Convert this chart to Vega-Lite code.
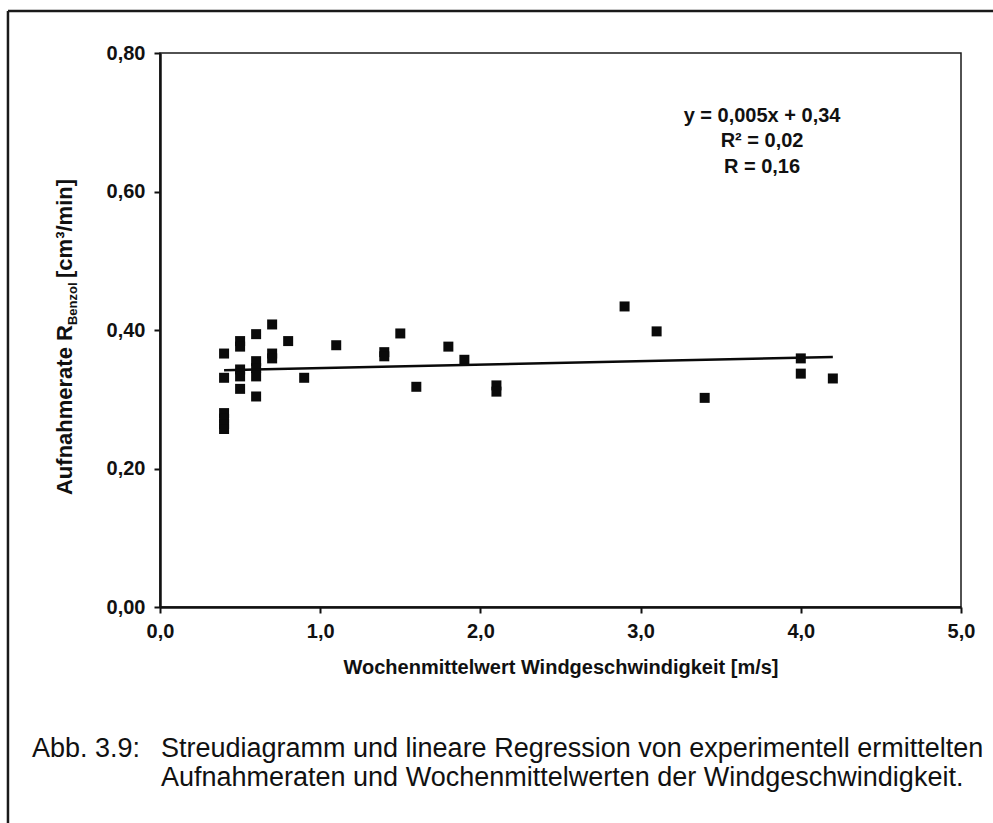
{
  "$schema": "https://vega.github.io/schema/vega-lite/v6.json",
  "width": 801,
  "height": 554,
  "autosize": "none",
  "padding": {"left": 160, "top": 53, "right": 32, "bottom": 216},
  "background": "white",
  "config": {
    "font": "Liberation Sans",
    "view": {"stroke": "#1a1a1a", "strokeWidth": 1.5},
    "axis": {
      "domainColor": "#111111",
      "domainWidth": 2.5,
      "tickColor": "#111111",
      "tickWidth": 2,
      "tickSize": 6,
      "grid": false,
      "labelFont": "Liberation Sans",
      "labelFontWeight": "bold",
      "labelFontSize": 20,
      "labelColor": "#111111",
      "labelFlush": false,
      "labelOverlap": false,
      "labelBound": false,
      "titleFont": "Liberation Sans",
      "titleFontWeight": "bold",
      "titleFontSize": 20,
      "titleColor": "#111111"
    }
  },
  "datasets": {
    "messwerte": [
      {"wind": 0.4, "rate": 0.366}, {"wind": 0.4, "rate": 0.331}, {"wind": 0.4, "rate": 0.280},
      {"wind": 0.4, "rate": 0.272}, {"wind": 0.4, "rate": 0.264}, {"wind": 0.4, "rate": 0.257},
      {"wind": 0.5, "rate": 0.384}, {"wind": 0.5, "rate": 0.376}, {"wind": 0.5, "rate": 0.343},
      {"wind": 0.5, "rate": 0.333}, {"wind": 0.5, "rate": 0.315},
      {"wind": 0.6, "rate": 0.394}, {"wind": 0.6, "rate": 0.355}, {"wind": 0.6, "rate": 0.345},
      {"wind": 0.6, "rate": 0.333}, {"wind": 0.6, "rate": 0.304},
      {"wind": 0.7, "rate": 0.408}, {"wind": 0.7, "rate": 0.366}, {"wind": 0.7, "rate": 0.359},
      {"wind": 0.8, "rate": 0.384},
      {"wind": 0.9, "rate": 0.331},
      {"wind": 1.1, "rate": 0.378},
      {"wind": 1.4, "rate": 0.368}, {"wind": 1.4, "rate": 0.362},
      {"wind": 1.5, "rate": 0.395},
      {"wind": 1.6, "rate": 0.318},
      {"wind": 1.8, "rate": 0.376},
      {"wind": 1.9, "rate": 0.357},
      {"wind": 2.1, "rate": 0.320}, {"wind": 2.1, "rate": 0.311},
      {"wind": 2.9, "rate": 0.434},
      {"wind": 3.1, "rate": 0.398},
      {"wind": 3.4, "rate": 0.302},
      {"wind": 4.0, "rate": 0.359}, {"wind": 4.0, "rate": 0.337},
      {"wind": 4.2, "rate": 0.330}
    ],
    "regression": [
      {"wind": 0.4, "rate": 0.342},
      {"wind": 4.2, "rate": 0.361}
    ]
  },
  "layer": [
    {
      "data": {"name": "messwerte"},
      "mark": {"type": "square", "size": 100, "filled": true, "color": "#0a0a0a", "opacity": 1},
      "encoding": {
        "x": {
          "field": "wind", "type": "quantitative",
          "scale": {"domain": [0, 5], "nice": false, "zero": false},
          "title": "Wochenmittelwert Windgeschwindigkeit [m/s]",
          "axis": {
            "values": [0, 1, 2, 3, 4, 5],
            "labelExpr": "replace(format(datum.value, '.1f'), '.', ',')",
            "labelPadding": 8,
            "titlePadding": 16
          }
        },
        "y": {
          "field": "rate", "type": "quantitative",
          "scale": {"domain": [0, 0.8], "nice": false, "zero": false},
          "title": null,
          "axis": {
            "values": [0, 0.2, 0.4, 0.6, 0.8],
            "labelExpr": "replace(format(datum.value, '.2f'), '.', ',')",
            "labelPadding": 9
          }
        }
      }
    },
    {
      "data": {"name": "regression"},
      "mark": {"type": "line", "color": "#0a0a0a", "strokeWidth": 2.5},
      "encoding": {
        "x": {"field": "wind", "type": "quantitative", "scale": {"domain": [0, 5], "nice": false, "zero": false}, "title": "Wochenmittelwert Windgeschwindigkeit [m/s]"},
        "y": {"field": "rate", "type": "quantitative", "scale": {"domain": [0, 0.8], "nice": false, "zero": false}, "title": null}
      }
    },
    {
      "description": "Rahmen der Abbildung, oben",
      "data": {"values": [{}]},
      "mark": {"type": "rule", "stroke": "#1a1a1a", "strokeWidth": 2.5},
      "encoding": {
        "x": {"datum": -0.949, "type": "quantitative", "scale": {"domain": [0, 5], "nice": false, "zero": false}},
        "x2": {"datum": 5.3},
        "y": {"datum": 0.8606, "type": "quantitative", "scale": {"domain": [0, 0.8], "nice": false, "zero": false}}
      }
    },
    {
      "description": "Rahmen der Abbildung, links",
      "data": {"values": [{}]},
      "mark": {"type": "rule", "stroke": "#1a1a1a", "strokeWidth": 2.5},
      "encoding": {
        "x": {"datum": -0.949, "type": "quantitative", "scale": {"domain": [0, 5], "nice": false, "zero": false}},
        "y": {"datum": 0.8606, "type": "quantitative", "scale": {"domain": [0, 0.8], "nice": false, "zero": false}},
        "y2": {"datum": -0.34}
      }
    },
    {
      "description": "Regressionsgleichung",
      "data": {"values": [{}]},
      "mark": {
        "type": "text", "align": "center", "baseline": "alphabetic",
        "font": "Liberation Sans", "fontWeight": "bold", "fontSize": 20, "lineHeight": 25.5, "color": "#111111",
        "text": ["y = 0,005x + 0,34", "R² = 0,02", "R = 0,16"]
      },
      "encoding": {
        "x": {"datum": 3.758, "type": "quantitative", "scale": {"domain": [0, 5], "nice": false, "zero": false}},
        "y": {"datum": 0.7008, "type": "quantitative", "scale": {"domain": [0, 0.8], "nice": false, "zero": false}}
      }
    },
    {
      "description": "y-Achsentitel, Teil 1",
      "data": {"values": [{}]},
      "mark": {
        "type": "text", "align": "left", "baseline": "alphabetic", "angle": 270,
        "font": "Liberation Sans", "fontWeight": "bold", "fontSize": 22, "color": "#111111",
        "text": "Aufnahmerate R"
      },
      "encoding": {
        "x": {"datum": -0.549, "type": "quantitative", "scale": {"domain": [0, 5], "nice": false, "zero": false}},
        "y": {"datum": 0.1617, "type": "quantitative", "scale": {"domain": [0, 0.8], "nice": false, "zero": false}}
      }
    },
    {
      "description": "y-Achsentitel, Index",
      "data": {"values": [{}]},
      "mark": {
        "type": "text", "align": "left", "baseline": "alphabetic", "angle": 270,
        "font": "Liberation Sans", "fontWeight": "bold", "fontSize": 13, "color": "#111111",
        "text": "Benzol"
      },
      "encoding": {
        "x": {"datum": -0.52, "type": "quantitative", "scale": {"domain": [0, 5], "nice": false, "zero": false}},
        "y": {"datum": 0.4072, "type": "quantitative", "scale": {"domain": [0, 0.8], "nice": false, "zero": false}}
      }
    },
    {
      "description": "y-Achsentitel, Einheit",
      "data": {"values": [{}]},
      "mark": {
        "type": "text", "align": "left", "baseline": "alphabetic", "angle": 270,
        "font": "Liberation Sans", "fontWeight": "bold", "fontSize": 22, "color": "#111111",
        "text": "[cm³/min]"
      },
      "encoding": {
        "x": {"datum": -0.549, "type": "quantitative", "scale": {"domain": [0, 5], "nice": false, "zero": false}},
        "y": {"datum": 0.4751, "type": "quantitative", "scale": {"domain": [0, 0.8], "nice": false, "zero": false}}
      }
    },
    {
      "description": "Bildunterschrift, Nummer",
      "data": {"values": [{}]},
      "mark": {
        "type": "text", "align": "left", "baseline": "alphabetic",
        "font": "Liberation Sans", "fontSize": 27, "color": "#111111",
        "text": "Abb. 3.9:"
      },
      "encoding": {
        "x": {"datum": -0.799, "type": "quantitative", "scale": {"domain": [0, 5], "nice": false, "zero": false}},
        "y": {"datum": -0.2166, "type": "quantitative", "scale": {"domain": [0, 0.8], "nice": false, "zero": false}}
      }
    },
    {
      "description": "Bildunterschrift, Text",
      "data": {"values": [{}]},
      "mark": {
        "type": "text", "align": "left", "baseline": "alphabetic", "lineHeight": 29,
        "font": "Liberation Sans", "fontSize": 27, "color": "#111111",
        "text": [
          "Streudiagramm und lineare Regression von experimentell ermittelten",
          "Aufnahmeraten und Wochenmittelwerten der Windgeschwindigkeit."
        ]
      },
      "encoding": {
        "x": {"datum": 0.006, "type": "quantitative", "scale": {"domain": [0, 5], "nice": false, "zero": false}},
        "y": {"datum": -0.2166, "type": "quantitative", "scale": {"domain": [0, 0.8], "nice": false, "zero": false}}
      }
    }
  ]
}
